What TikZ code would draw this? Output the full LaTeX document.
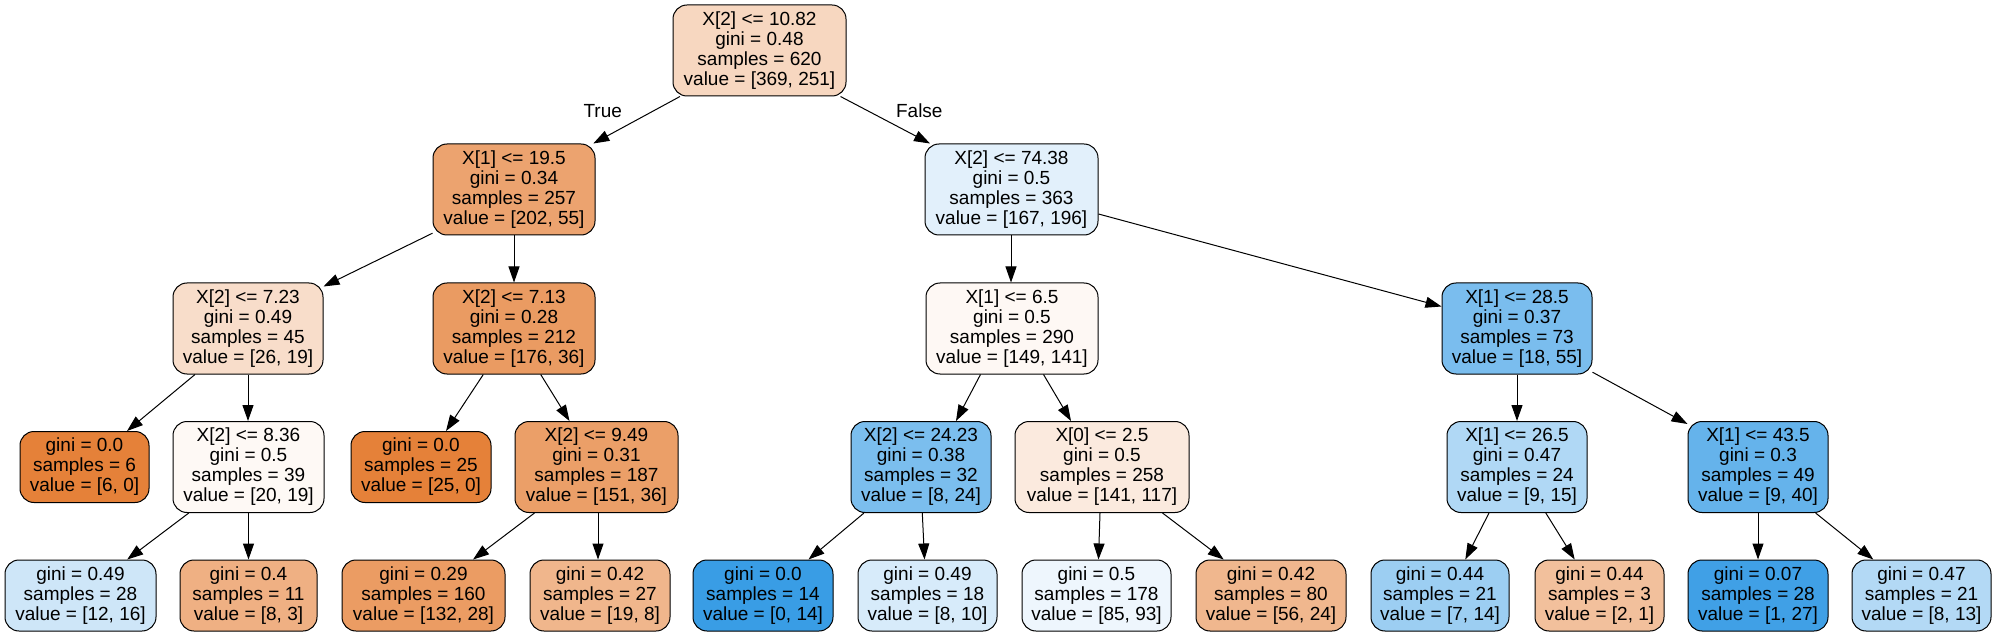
\documentclass[tikz,border=0pt]{standalone}
\usepackage{fontspec}
\setmainfont{Liberation Sans}
\usetikzlibrary{arrows.meta,calc}
\definecolor{cR}{HTML}{F7D7C0}
\definecolor{cLa}{HTML}{ECA36F}
\definecolor{cLb}{HTML}{E2F0FB}
\definecolor{cMa}{HTML}{F8DDCA}
\definecolor{cMb}{HTML}{EA9B62}
\definecolor{cMc}{HTML}{FEF8F4}
\definecolor{cMd}{HTML}{7ABDEE}
\definecolor{cNa}{HTML}{E58139}
\definecolor{cNb}{HTML}{FEF9F5}
\definecolor{cNc}{HTML}{E58139}
\definecolor{cNd}{HTML}{EB9F68}
\definecolor{cNe}{HTML}{7BBEEE}
\definecolor{cNf}{HTML}{FBEADE}
\definecolor{cNg}{HTML}{B0D8F5}
\definecolor{cNh}{HTML}{65B3EB}
\definecolor{cPa}{HTML}{CEE6F8}
\definecolor{cPb}{HTML}{EFB083}
\definecolor{cPc}{HTML}{EB9C63}
\definecolor{cPd}{HTML}{F0B68C}
\definecolor{cPe}{HTML}{399DE5}
\definecolor{cPf}{HTML}{D7EBFA}
\definecolor{cPg}{HTML}{EEF6FD}
\definecolor{cPh}{HTML}{F0B78E}
\definecolor{cPi}{HTML}{9CCEF2}
\definecolor{cPj}{HTML}{F2C09C}
\definecolor{cPk}{HTML}{40A0E6}
\definecolor{cPl}{HTML}{B3D9F5}
\tikzset{
  tbox/.style={draw=black, line width=0.5pt, rounded corners=7pt, inner sep=0pt,
    align=center, font=\fontsize{9.5}{10}\selectfont, text=black},
  bw/.style={minimum width=#1*0.5pt},
  hfour/.style={minimum height=45.5pt},
  hthree/.style={minimum height=35.5pt},
  edge/.style={line width=0.5pt, draw=black, -{Triangle[length=8pt,width=5.5pt]}},
  elabel/.style={font=\fontsize{9.5}{10}\selectfont, inner sep=0pt}
}
\begin{document}
\begin{tikzpicture}[x=0.5pt,y=-0.5pt]
\useasboundingbox[fill=white] (0,0) rectangle (1997,636);

% level 0
\node[tbox,hfour,bw=173,fill=cR] (R) at (759.5,50.5) {X[2] <= 10.82\\gini = 0.48\\samples = 620\\value = [369, 251]};
% level 1
\node[tbox,hfour,bw=162,fill=cLa] (La) at (514,189.5) {X[1] <= 19.5\\gini = 0.34\\samples = 257\\value = [202, 55]};
\node[tbox,hfour,bw=173,fill=cLb] (Lb) at (1011.5,189.5) {X[2] <= 74.38\\gini = 0.5\\samples = 363\\value = [167, 196]};
% level 2
\node[tbox,hfour,bw=150,fill=cMa] (Ma) at (248,328.5) {X[2] <= 7.23\\gini = 0.49\\samples = 45\\value = [26, 19]};
\node[tbox,hfour,bw=162,fill=cMb] (Mb) at (514,328.5) {X[2] <= 7.13\\gini = 0.28\\samples = 212\\value = [176, 36]};
\node[tbox,hfour,bw=172,fill=cMc] (Mc) at (1012,328.5) {X[1] <= 6.5\\gini = 0.5\\samples = 290\\value = [149, 141]};
\node[tbox,hfour,bw=150,fill=cMd] (Md) at (1517,328.5) {X[1] <= 28.5\\gini = 0.37\\samples = 73\\value = [18, 55]};
% level 3
\node[tbox,hthree,bw=129,fill=cNa] (Na) at (84.5,467) {gini = 0.0\\samples = 6\\value = [6, 0]};
\node[tbox,hfour,bw=151,fill=cNb] (Nb) at (248.5,467) {X[2] <= 8.36\\gini = 0.5\\samples = 39\\value = [20, 19]};
\node[tbox,hthree,bw=140,fill=cNc] (Nc) at (421,467) {gini = 0.0\\samples = 25\\value = [25, 0]};
\node[tbox,hfour,bw=163,fill=cNd] (Nd) at (596.5,467) {X[2] <= 9.49\\gini = 0.31\\samples = 187\\value = [151, 36]};
\node[tbox,hfour,bw=140,fill=cNe] (Ne) at (921,467) {X[2] <= 24.23\\gini = 0.38\\samples = 32\\value = [8, 24]};
\node[tbox,hfour,bw=174,fill=cNf] (Nf) at (1102,467) {X[0] <= 2.5\\gini = 0.5\\samples = 258\\value = [141, 117]};
\node[tbox,hfour,bw=140,fill=cNg] (Ng) at (1517,467) {X[1] <= 26.5\\gini = 0.47\\samples = 24\\value = [9, 15]};
\node[tbox,hfour,bw=140,fill=cNh] (Nh) at (1758,467) {X[1] <= 43.5\\gini = 0.3\\samples = 49\\value = [9, 40]};
% level 4
\node[tbox,hthree,bw=151,fill=cPa] (Pa) at (80.5,595.5) {gini = 0.49\\samples = 28\\value = [12, 16]};
\node[tbox,hthree,bw=137,fill=cPb] (Pb) at (248.5,595.5) {gini = 0.4\\samples = 11\\value = [8, 3]};
\node[tbox,hthree,bw=163,fill=cPc] (Pc) at (423.5,595.5) {gini = 0.29\\samples = 160\\value = [132, 28]};
\node[tbox,hthree,bw=140,fill=cPd] (Pd) at (600,595.5) {gini = 0.42\\samples = 27\\value = [19, 8]};
\node[tbox,hthree,bw=140,fill=cPe] (Pe) at (763,595.5) {gini = 0.0\\samples = 14\\value = [0, 14]};
\node[tbox,hthree,bw=139,fill=cPf] (Pf) at (927.5,595.5) {gini = 0.49\\samples = 18\\value = [8, 10]};
\node[tbox,hthree,bw=149,fill=cPg] (Pg) at (1096.5,595.5) {gini = 0.5\\samples = 178\\value = [85, 93]};
\node[tbox,hthree,bw=150,fill=cPh] (Ph) at (1271,595.5) {gini = 0.42\\samples = 80\\value = [56, 24]};
\node[tbox,hthree,bw=138,fill=cPi] (Pi) at (1440,595.5) {gini = 0.44\\samples = 21\\value = [7, 14]};
\node[tbox,hthree,bw=129,fill=cPj] (Pj) at (1599.5,595.5) {gini = 0.44\\samples = 3\\value = [2, 1]};
\node[tbox,hthree,bw=140,fill=cPk] (Pk) at (1758,595.5) {gini = 0.07\\samples = 28\\value = [1, 27]};
\node[tbox,hthree,bw=139,fill=cPl] (Pl) at (1921.5,595.5) {gini = 0.47\\samples = 21\\value = [8, 13]};

% edge labels
\node[elabel] (tl) at (602.7,110.7) {True};
\node[elabel] (fl) at (919.3,110.7) {False};

% edges
\draw[edge] ($(R.south)+(-79.5,0)$) -- ($(La.north)+(79.3,0)$);
\draw[edge] ($(R.south)+(81,0)$) -- ($(Lb.north)+(-81.5,0)$);
\draw[edge] ($(La.south west)+(0,-2.3)$) -- ($(Ma.north east)+(0,4)$);
\draw[edge] (La.south) -- (Mb.north);
\draw[edge] ($(Lb.south)+(-0.5,0)$) -- ($(Mc.north)+(-1,0)$);
\draw[edge] ($(Lb.east)+(0,24.5)$) -- ($(Md.west)+(0,-22)$);
\draw[edge] ($(Ma.south)+(-53,0)$) -- ($(Na.north)+(42.5,0)$);
\draw[edge] (Ma.south) -- ($(Nb.north)+(-0.5,0)$);
\draw[edge] ($(Mb.south)+(-30.7,0)$) -- ($(Nc.north)+(25,0)$);
\draw[edge] ($(Mb.south)+(26.7,0)$) -- ($(Nd.north)+(-27,0)$);
\draw[edge] ($(Mc.south)+(-31.5,0)$) -- ($(Ne.north)+(35,0)$);
\draw[edge] ($(Mc.south)+(31.5,0)$) -- ($(Nf.north)+(-31,0)$);
\draw[edge] (Md.south) -- (Ng.north);
\draw[edge] ($(Md.south east)+(0,-2.3)$) -- ($(Nh.north west)+(0,3)$);
\draw[edge] ($(Nb.south)+(-59.7,0)$) -- ($(Pa.north)+(46.7,0)$);
\draw[edge] (Nb.south) -- (Pb.north);
\draw[edge] ($(Nd.south)+(-62,0)$) -- ($(Pc.north)+(49.5,0)$);
\draw[edge] ($(Nd.south)+(1.5,0)$) -- ($(Pd.north)+(-2,0)$);
\draw[edge] ($(Ne.south)+(-57,0)$) -- ($(Pe.north)+(45.5,0)$);
\draw[edge] ($(Ne.south)+(1.3,0)$) -- ($(Pf.north)+(-3,0)$);
\draw[edge] ($(Nf.south)+(-2,0)$) -- ($(Pg.north)+(2,0)$);
\draw[edge] ($(Nf.south)+(60.5,0)$) -- ($(Ph.north)+(-47.3,0)$);
\draw[edge] ($(Ng.south)+(-28,0)$) -- ($(Pi.north)+(25.3,0)$);
\draw[edge] ($(Ng.south)+(28.8,0)$) -- ($(Pj.north)+(-24.8,0)$);
\draw[edge] (Nh.south) -- (Pk.north);
\draw[edge] ($(Nh.south)+(57.6,0)$) -- ($(Pl.north)+(-48.2,0)$);
\end{tikzpicture}
\end{document}
